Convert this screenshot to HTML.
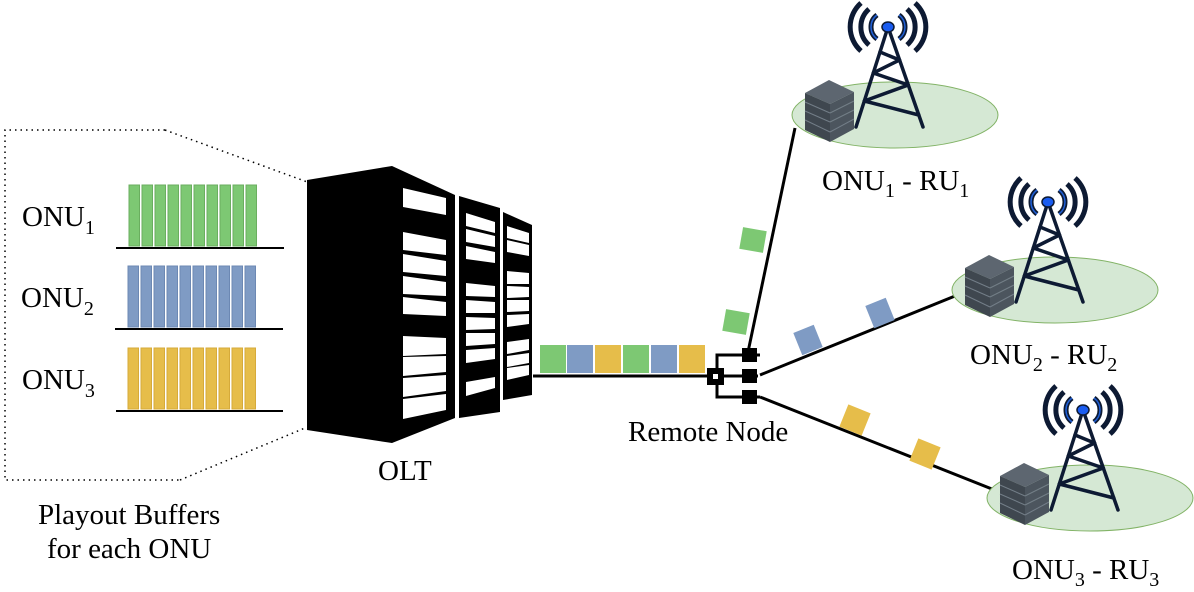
<!DOCTYPE html>
<html><head><meta charset="utf-8"><style>
html,body{margin:0;padding:0;background:#fff;}
svg{display:block;}
text{font-family:"Liberation Serif",serif;fill:#000;}
</style></head><body>
<svg width="1194" height="592" viewBox="0 0 1194 592" xmlns="http://www.w3.org/2000/svg">
<defs>
<g id="site">
  <ellipse cx="0" cy="0" rx="103" ry="33" fill="#d5e8d4" stroke="#82b366" stroke-width="1"/>
  <g stroke="#0d1a33" stroke-width="3.5" fill="none" stroke-linecap="round" stroke-linejoin="round">
    <line x1="-7" y1="-88" x2="-39" y2="12"/>
    <line x1="-7" y1="-88" x2="28" y2="12"/>
    <polyline points="-15,-63 4.5,-55 -21.7,-42 13.3,-30 -30.7,-14 23.8,0"/>
  </g>
  <g stroke="#0d1a33" stroke-width="5" fill="none">
    <path d="M-18,-100 A15,15 0 0 0 -18,-76"/>
    <path d="M4,-100 A15,15 0 0 1 4,-76"/>
    <path d="M-26,-106 A24,24 0 0 0 -26,-70"/>
    <path d="M12,-106 A24,24 0 0 1 12,-70"/>
    <path d="M-34,-112 A32,32 0 0 0 -34,-64"/>
    <path d="M20,-112 A32,32 0 0 1 20,-64"/>
  </g>
  <g stroke="#1f5fd6" stroke-width="1.5" fill="none">
    <path d="M-18,-100 A15,15 0 0 0 -18,-76"/>
    <path d="M4,-100 A15,15 0 0 1 4,-76"/>
  </g>
  <ellipse cx="-7" cy="-88" rx="6" ry="5" fill="#1a5cf0" stroke="#0d1a33" stroke-width="1.5"/>
  <!-- server -->
  <polygon points="-90,-22 -66,-35 -41,-23 -65,-11" fill="#5d6670"/>
  <polygon points="-90,-22 -65,-11 -65,27 -90,15" fill="#3f474f"/>
  <polygon points="-65,-11 -41,-23 -41,14 -65,27" fill="#4c555e"/>
  <g stroke="#737e88" stroke-width="1">
    <line x1="-90" y1="-13" x2="-65" y2="-2"/><line x1="-90" y1="-4" x2="-65" y2="7"/>
    <line x1="-90" y1="5" x2="-65" y2="17"/>
    <line x1="-65" y1="-2" x2="-41" y2="-14"/><line x1="-65" y1="7" x2="-41" y2="-5"/>
    <line x1="-65" y1="17" x2="-41" y2="4"/>
  </g>
</g>
</defs>

<polyline points="165,130 5,130 5,480 180,480" fill="none" stroke="#000" stroke-width="1.5" stroke-dasharray="1.5,4"/>
<line x1="165" y1="130" x2="310" y2="183" stroke="#000" stroke-width="1.5" stroke-dasharray="1.5,4"/>
<line x1="180" y1="480" x2="305" y2="428" stroke="#000" stroke-width="1.5" stroke-dasharray="1.5,4"/>

<g stroke-width="1">
<g fill="#7dc873" stroke="#6aae5f">
<rect x="129" y="185" width="10.5" height="61"/><rect x="142" y="185" width="10.5" height="61"/><rect x="155" y="185" width="10.5" height="61"/><rect x="168" y="185" width="10.5" height="61"/><rect x="181" y="185" width="10.5" height="61"/><rect x="194" y="185" width="10.5" height="61"/><rect x="207" y="185" width="10.5" height="61"/><rect x="220" y="185" width="10.5" height="61"/><rect x="233" y="185" width="10.5" height="61"/><rect x="246" y="185" width="10.5" height="61"/>
</g>
<g fill="#7f9bc4" stroke="#6c88b3">
<rect x="128" y="266" width="10.5" height="61"/><rect x="141" y="266" width="10.5" height="61"/><rect x="154" y="266" width="10.5" height="61"/><rect x="167" y="266" width="10.5" height="61"/><rect x="180" y="266" width="10.5" height="61"/><rect x="193" y="266" width="10.5" height="61"/><rect x="206" y="266" width="10.5" height="61"/><rect x="219" y="266" width="10.5" height="61"/><rect x="232" y="266" width="10.5" height="61"/><rect x="245" y="266" width="10.5" height="61"/>
</g>
<g fill="#e6bd4a" stroke="#d6aa3a">
<rect x="128" y="348" width="10.5" height="61"/><rect x="141" y="348" width="10.5" height="61"/><rect x="154" y="348" width="10.5" height="61"/><rect x="167" y="348" width="10.5" height="61"/><rect x="180" y="348" width="10.5" height="61"/><rect x="193" y="348" width="10.5" height="61"/><rect x="206" y="348" width="10.5" height="61"/><rect x="219" y="348" width="10.5" height="61"/><rect x="232" y="348" width="10.5" height="61"/><rect x="245" y="348" width="10.5" height="61"/>
</g>
</g>
<g stroke="#000" stroke-width="2">
<line x1="116" y1="248" x2="284" y2="248"/>
<line x1="115" y1="329" x2="283" y2="329"/>
<line x1="116" y1="411" x2="283" y2="411"/>
</g>
<text x="22" y="226" font-size="29">ONU<tspan font-size="20" dy="8">1</tspan></text>
<text x="21" y="307" font-size="29">ONU<tspan font-size="20" dy="8">2</tspan></text>
<text x="22" y="389" font-size="29">ONU<tspan font-size="20" dy="8">3</tspan></text>

<polygon points="307,180 392,166 455,195 455,418 392,443 307,430" fill="#000"/>
<polygon points="459,196 500,208 500,412 459,418" fill="#000"/>
<polygon points="503,212 532,225 532,395 503,400" fill="#000"/>
<g fill="#fff">
  <polygon points="403,188 446,198 446,215 403,207"/>
  <polygon points="403,232 446,240 446,255 403,250"/>
  <polygon points="403,254 446,261 446,276 403,272"/>
  <polygon points="403,276 446,282 446,296 403,294"/>
  <polygon points="403,297 446,302 446,316 403,314"/>
  <polygon points="403,336 446,338 446,354 403,356"/>
  <polygon points="403,357 446,356 446,372 403,376"/>
  <polygon points="403,378 446,375 446,391 403,397"/>
  <polygon points="403,399 446,394 446,410 403,419"/>
  <polygon points="466,213 495,222 495,233 466,226"/>
  <polygon points="466,229 495,236 495,247 466,242"/>
  <polygon points="466,246 495,252 495,263 466,259"/>
  <polygon points="466,283 495,286 495,297 466,296"/>
  <polygon points="466,300 495,302 495,313 466,313"/>
  <polygon points="466,317 495,318 495,329 466,330"/>
  <polygon points="466,333 495,333 495,344 466,346"/>
  <polygon points="466,350 495,348 495,359 466,363"/>
  <polygon points="466,382 495,377 495,388 466,396"/>
  <polygon points="507,226 529,233 529,243 507,238"/>
  <polygon points="507,240 529,245 529,256 507,252"/>
  <polygon points="507,271 529,273 529,284 507,284"/>
  <polygon points="507,286 529,287 529,297 507,298"/>
  <polygon points="507,300 529,300 529,311 507,312"/>
  <polygon points="507,315 529,314 529,324 507,327"/>
  <polygon points="507,342 529,339 529,350 507,354"/>
  <polygon points="507,356 529,353 529,363 507,367"/>
  <polygon points="507,368 529,365 529,375 507,380"/>
</g>
<text x="378" y="480" font-size="29">OLT</text>

<line x1="533" y1="376" x2="712" y2="376" stroke="#000" stroke-width="3"/>
<rect x="540" y="345" width="26" height="28" fill="#7dc873"/>
<rect x="567" y="345" width="26" height="28" fill="#7f9bc4"/>
<rect x="595" y="345" width="26" height="28" fill="#e6bd4a"/>
<rect x="623" y="345" width="26" height="28" fill="#7dc873"/>
<rect x="651" y="345" width="26" height="28" fill="#7f9bc4"/>
<rect x="679" y="345" width="26" height="28" fill="#e6bd4a"/>

<g stroke="#000" stroke-width="3">
<line x1="748" y1="352" x2="795" y2="128"/>
<line x1="760" y1="375" x2="955" y2="296"/>
<line x1="760" y1="397" x2="1002" y2="493"/>
</g>
<g stroke="#000" stroke-width="3" fill="none">
<polyline points="760,355 717,355 717,397 760,397"/>
<line x1="717" y1="376" x2="758" y2="376"/>
</g>
<rect x="707" y="368" width="17" height="17" fill="#000"/>
<rect x="713" y="374" width="5" height="5" fill="#fff"/>
<rect x="742" y="348" width="15" height="14" fill="#000"/>
<rect x="742" y="369" width="15" height="14" fill="#000"/>
<rect x="742" y="390" width="15" height="14" fill="#000"/>
<text x="628" y="441" font-size="29">Remote Node</text>

<rect x="-12" y="-11" width="24" height="22" fill="#7dc873" transform="translate(753,240) rotate(10)"/>
<rect x="-12" y="-11" width="24" height="22" fill="#7dc873" transform="translate(736,322) rotate(10)"/>
<rect x="-11" y="-12" width="22" height="24" fill="#7f9bc4" transform="translate(808,340) rotate(-22)"/>
<rect x="-11" y="-12" width="22" height="24" fill="#7f9bc4" transform="translate(880,313) rotate(-22)"/>
<rect x="-12" y="-12" width="24" height="24" fill="#e6bd4a" transform="translate(855,420) rotate(22)"/>
<rect x="-12" y="-12" width="24" height="24" fill="#e6bd4a" transform="translate(925,454) rotate(22)"/>

<use href="#site" transform="translate(895,115)"/>
<use href="#site" transform="translate(1055,290)"/>
<use href="#site" transform="translate(1090,498)"/>

<text x="822" y="190" font-size="29">ONU<tspan font-size="20" dy="7">1</tspan><tspan dy="-7"> - RU</tspan><tspan font-size="20" dy="7">1</tspan></text>
<text x="970" y="364" font-size="29">ONU<tspan font-size="20" dy="7">2</tspan><tspan dy="-7"> - RU</tspan><tspan font-size="20" dy="7">2</tspan></text>
<text x="1012" y="579" font-size="29">ONU<tspan font-size="20" dy="7">3</tspan><tspan dy="-7"> - RU</tspan><tspan font-size="20" dy="7">3</tspan></text>

<text x="38" y="524" font-size="29">Playout Buffers</text>
<text x="47" y="558" font-size="29">for each ONU</text>
</svg>
</body></html>
